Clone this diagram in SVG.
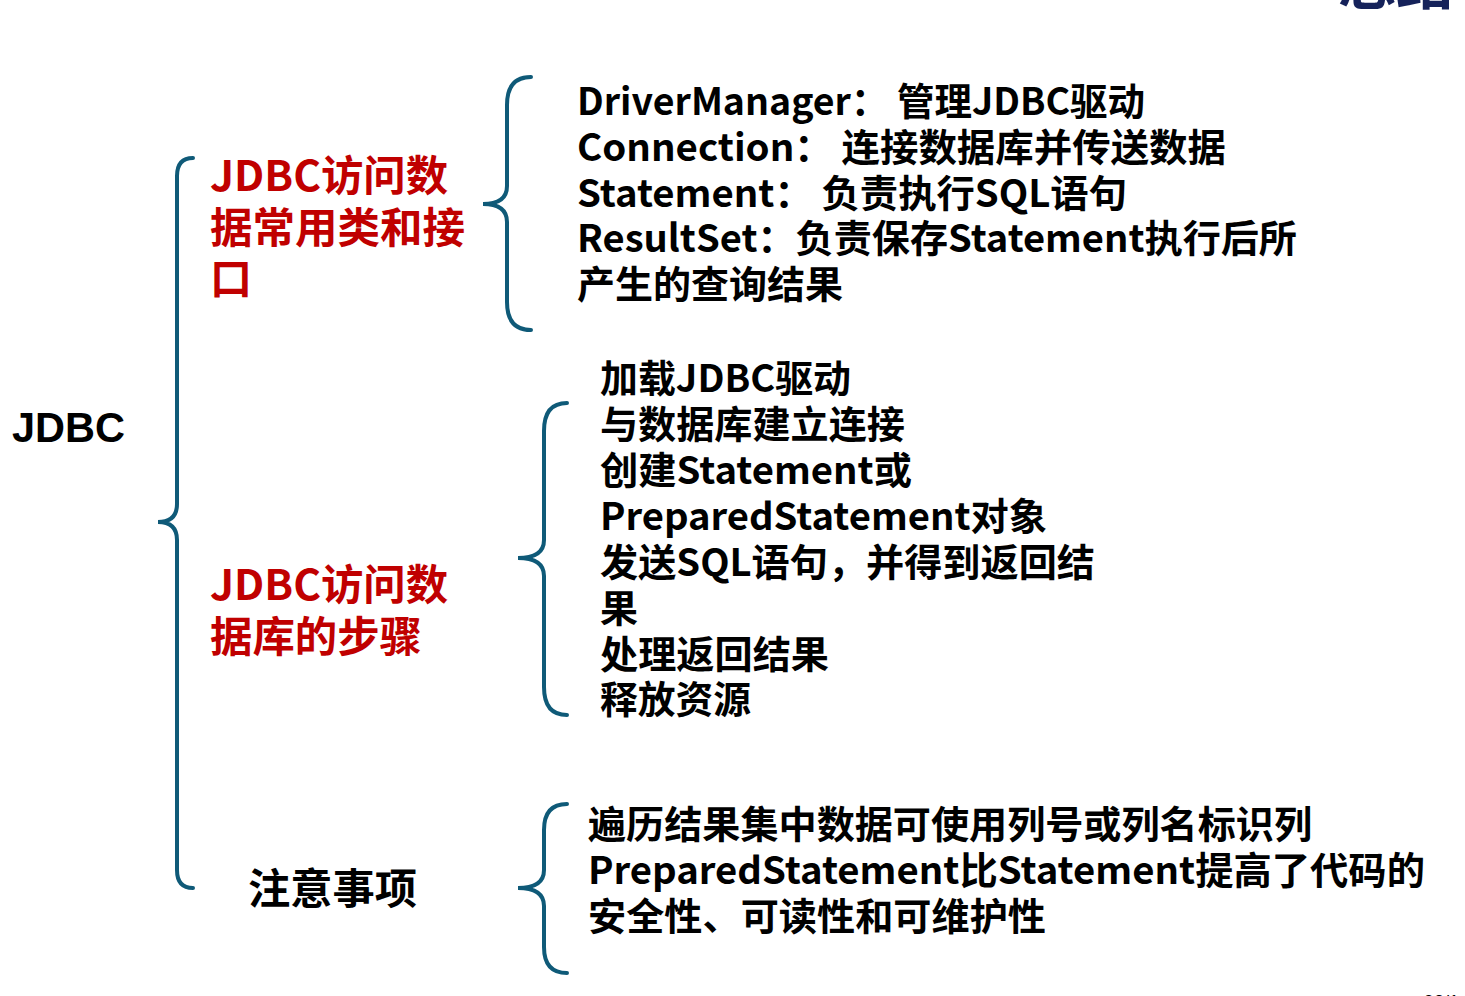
<svg xmlns="http://www.w3.org/2000/svg" width="1465" height="996" viewBox="0 0 1465 996">
<style>
.b{fill:none;stroke:#0f5a78;stroke-width:4;stroke-linecap:round}
text{font-family:"Microsoft YaHei","Noto Sans CJK SC","Noto Sans",sans-serif;font-weight:bold}
.k{fill:#000;font-size:38px}
.r{fill:#c00000;font-size:42px}
.a{font-family:"Liberation Sans",Arial,sans-serif;font-size:42px;fill:#000}
</style>
<rect width="1465" height="996" fill="#fff"/>
<text x="1338" y="4" style="font-size:58px;fill:#15225a">总结</text>
<text x="1424" y="1008" style="font-family:'Liberation Sans',sans-serif;font-size:18px;font-weight:normal;fill:#000">93/1</text>
<g id="connectors">
<path class="b" d="M193 158 Q177 158 177 176 L177 504 Q177 522 158 522 Q177 522 177 540 L177 870 Q177 888 193 888"/>
<path class="b" d="M531 77 Q507 77 507 105 L507 186 Q507 204 483 204 Q507 204 507 222 L507 302 Q507 330 531 330"/>
<path class="b" d="M567 403 Q544 403 544 431 L544 540 Q544 558 518 558 Q544 558 544 576 L544 687 Q544 715 567 715"/>
<path class="b" d="M567 804 Q544 804 544 830 L544 870 Q544 888 518 888 Q544 888 544 906 L544 947 Q544 973 567 973"/>
</g>
<g id="root"><text class="a" x="12" y="442" textLength="113" lengthAdjust="spacingAndGlyphs">JDBC</text></g>
<g id="n1">
<text class="r" x="210" y="191" textLength="238" lengthAdjust="spacingAndGlyphs">JDBC访问数</text>
<text class="r" x="210" y="243" textLength="255" lengthAdjust="spacingAndGlyphs">据常用类和接</text>
<text class="r" x="210" y="294">口</text>
</g>
<g id="n2">
<text class="r" x="210" y="600" textLength="238" lengthAdjust="spacingAndGlyphs">JDBC访问数</text>
<text class="r" x="210" y="652" textLength="212" lengthAdjust="spacingAndGlyphs">据库的步骤</text>
</g>
<g id="n3"><text class="r" x="248" y="904" fill="#000" style="fill:#000" textLength="169" lengthAdjust="spacingAndGlyphs">注意事项</text></g>
<g id="d1">
<text class="k" x="577" y="115" textLength="568" lengthAdjust="spacingAndGlyphs">DriverManager： 管理JDBC驱动</text>
<text class="k" x="577" y="161" textLength="649" lengthAdjust="spacingAndGlyphs">Connection： 连接数据库并传送数据</text>
<text class="k" x="577" y="207" textLength="550" lengthAdjust="spacingAndGlyphs">Statement： 负责执行SQL语句</text>
<text class="k" x="577" y="252" textLength="720" lengthAdjust="spacingAndGlyphs">ResultSet：负责保存Statement执行后所</text>
<text class="k" x="577" y="298" textLength="266" lengthAdjust="spacingAndGlyphs">产生的查询结果</text>
</g>
<g id="d2">
<text class="k" x="600" y="392" textLength="251" lengthAdjust="spacingAndGlyphs">加载JDBC驱动</text>
<text class="k" x="600" y="438" textLength="305" lengthAdjust="spacingAndGlyphs">与数据库建立连接</text>
<text class="k" x="600" y="484" textLength="312" lengthAdjust="spacingAndGlyphs">创建Statement或</text>
<text class="k" x="600" y="530" textLength="447" lengthAdjust="spacingAndGlyphs">PreparedStatement对象</text>
<text class="k" x="600" y="576" textLength="495" lengthAdjust="spacingAndGlyphs">发送SQL语句，并得到返回结</text>
<text class="k" x="600" y="622">果</text>
<text class="k" x="600" y="668" textLength="229" lengthAdjust="spacingAndGlyphs">处理返回结果</text>
<text class="k" x="600" y="713" textLength="151" lengthAdjust="spacingAndGlyphs">释放资源</text>
</g>
<g id="d3">
<text class="k" x="588" y="838" textLength="724" lengthAdjust="spacingAndGlyphs">遍历结果集中数据可使用列号或列名标识列</text>
<text class="k" x="588" y="884" textLength="837" lengthAdjust="spacingAndGlyphs">PreparedStatement比Statement提高了代码的</text>
<text class="k" x="588" y="930" textLength="458" lengthAdjust="spacingAndGlyphs">安全性、可读性和可维护性</text>
</g>
</svg>
